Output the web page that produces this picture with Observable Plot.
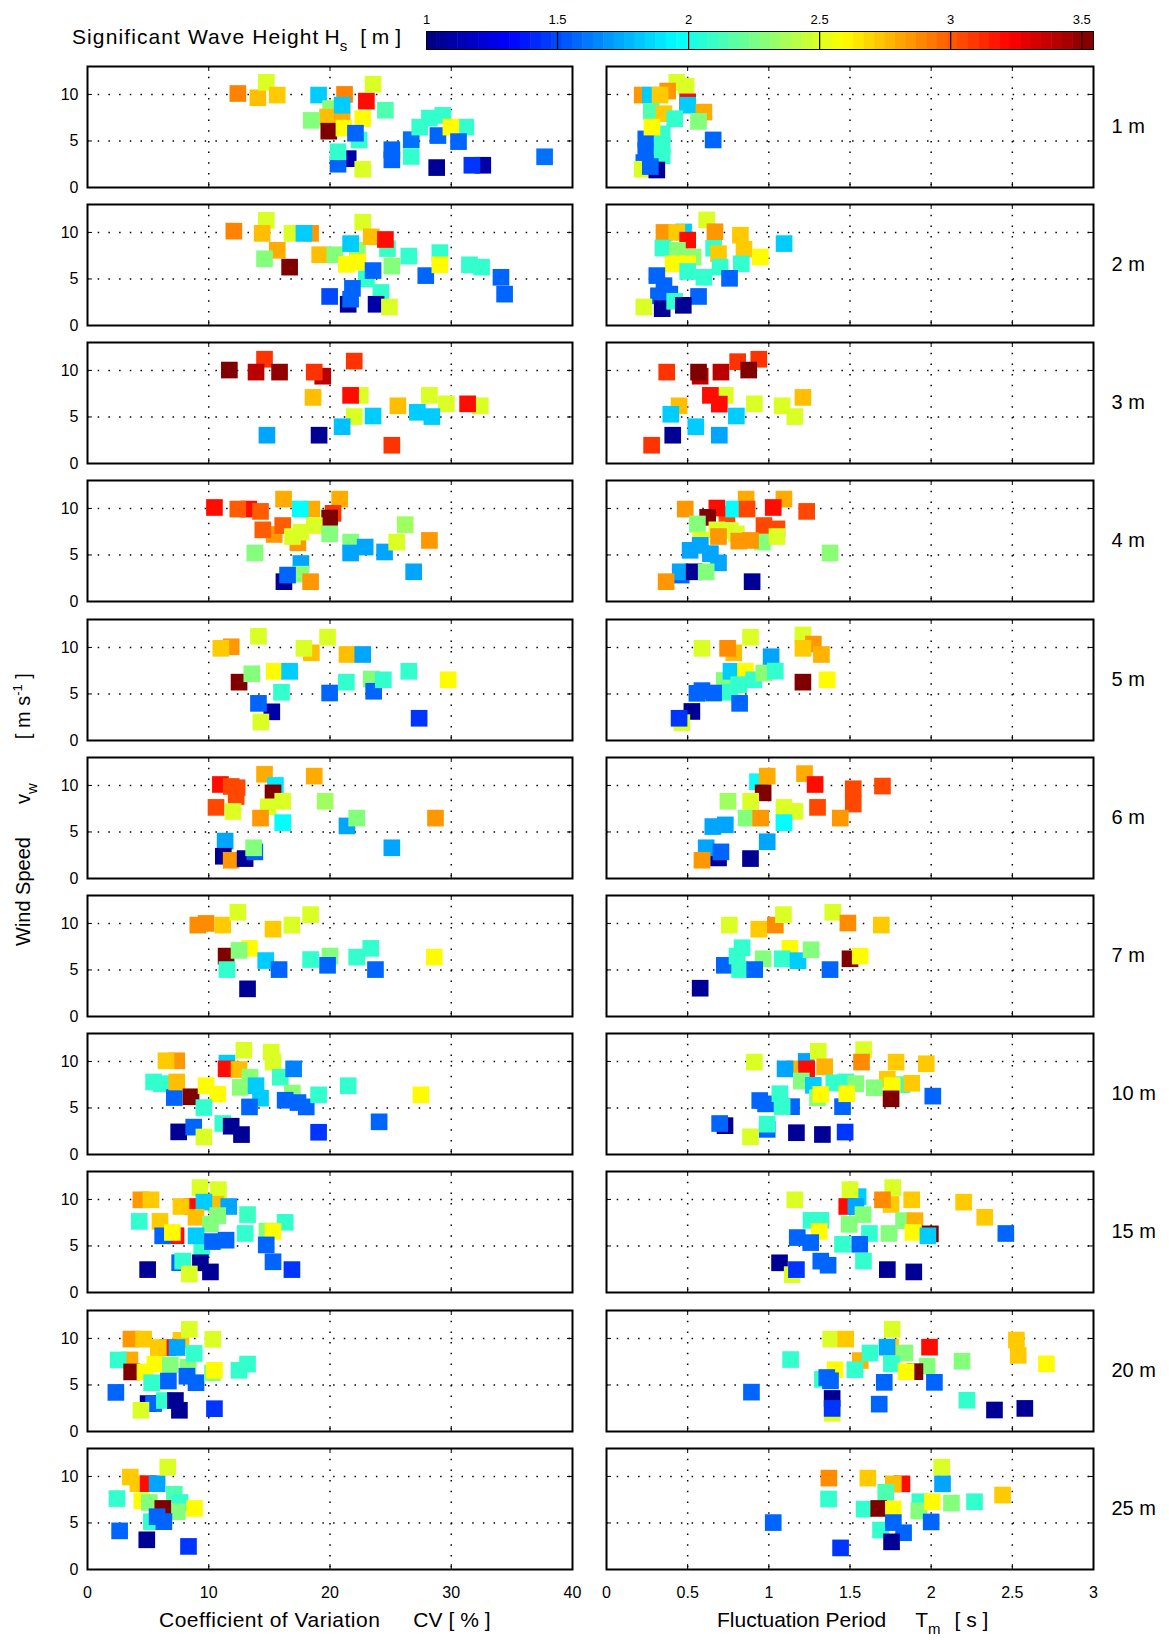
<!DOCTYPE html>
<html><head><meta charset="utf-8">
<script src="https://cdn.jsdelivr.net/npm/d3@7"></script>
<script src="https://cdn.jsdelivr.net/npm/@observablehq/plot@0.6"></script>
<style>
body{margin:0;background:#fff;}
#root{position:relative;width:1169px;height:1640px;overflow:hidden;font-family:"Liberation Sans",Arial,sans-serif;color:#000;background:#fff;}
.abs{position:absolute;}
.lbl{position:absolute;white-space:pre;font-size:21px;line-height:22px;}
.sb{font-size:15px;position:relative;top:7px;letter-spacing:0;}
.sp{font-size:13px;position:relative;top:-8px;letter-spacing:0;}
</style></head><body><div id="root"></div>
<script>
// ---- data: [value on x, wind speed vw (m/s), significant wave height Hs (m)] ----
const heights = ["1 m","2 m","3 m","4 m","5 m","6 m","7 m","10 m","15 m","20 m","25 m"];
const cvTicks = [0,10,20,30,40];
const tmTicks = [0,0.5,1,1.5,2,2.5,3];
const wsTicks = [0,5,10];
const hsTicks = [1,1.5,2,2.5,3,3.5];
const hsMax = 3.545;

// Coefficient of Variation CV [%]
const cv_1m = [[12.4,10.1,2.9],[14.05,9.64,2.75],[14.75,11.3,2.5],[15.65,9.93,2.72],[19.06,9.93,1.83],[21.2,10.0,2.9],[23.55,11.1,2.5],[20.05,8.48,2.3],[19.8,7.57,2.75],[21.0,7.3,2.8],[18.46,7.21,2.28],[21.0,8.84,1.83],[23.0,9.28,3.2],[22.7,7.39,2.6],[24.57,8.3,2.15],[19.9,6.05,3.55],[21.15,6.38,2.6],[22.4,5.1,2.08],[22.1,5.83,1.57],[21.5,3.1,1.1],[20.66,2.5,1.57],[20.66,3.84,2.08],[22.7,1.96,2.5],[25.1,4.06,1.57],[25.1,2.97,1.57],[26.7,3.33,2.08],[26.7,5.14,1.6],[27.4,6.49,2.08],[28.2,7.46,2.08],[29.3,7.75,2.08],[28.9,5.58,1.57],[31.2,6.49,2.08],[29.97,6.49,2.6],[30.6,4.93,1.57],[28.8,2.14,1.05],[32.6,2.39,1.1],[31.7,2.39,1.45],[37.7,3.3,1.6]];
const cv_2m = [[12.07,10.14,2.9],[14.75,11.3,2.5],[14.4,9.9,2.75],[15.65,8.08,2.8],[14.6,7.17,2.28],[16.67,6.27,3.55],[16.86,9.9,2.5],[18.4,9.9,2.85],[17.85,9.9,1.83],[19.15,7.6,2.75],[20.4,7.6,2.28],[22.26,8.08,2.3],[21.7,8.8,1.83],[22.7,11.1,2.5],[23.4,9.53,2.75],[24.74,8.26,2.1],[24.57,9.24,3.2],[21.35,6.56,2.6],[22.3,6.8,2.6],[23.0,5.0,2.08],[23.55,5.9,1.57],[25.1,6.38,2.28],[26.5,7.46,2.08],[27.9,5.36,1.57],[29.06,7.83,2.08],[29.06,6.52,2.6],[31.5,6.52,2.08],[32.5,6.27,2.08],[34.1,5.18,1.57],[34.4,3.37,1.57],[19.97,3.12,1.5],[21.5,2.28,1.05],[21.7,2.83,1.57],[21.85,3.99,1.57],[24.2,3.55,2.08],[23.8,2.28,1.1],[24.9,1.99,2.5]];
const cv_3m = [[11.7,10.04,3.55],[14.6,11.2,3.1],[13.9,9.82,3.4],[15.84,9.82,3.5],[19.4,9.38,3.4],[18.7,9.82,3.1],[22.0,11.0,3.1],[18.6,7.1,2.75],[22.5,7.32,2.5],[21.7,7.32,3.2],[22.0,5.04,2.5],[23.55,5.1,1.83],[25.6,6.2,2.75],[28.2,7.32,2.5],[29.6,6.41,2.5],[27.2,5.5,1.83],[28.4,5.04,1.83],[32.4,6.2,2.5],[31.35,6.41,3.2],[21.0,3.95,1.8],[14.8,3.04,1.73],[19.1,3.04,1.05],[25.1,1.96,3.1]];
const cv_4m = [[10.47,10.1,3.2],[13.3,9.93,3.2],[12.4,9.93,3.0],[14.27,9.68,3.0],[16.17,11.0,2.8],[18.5,9.93,2.8],[17.55,9.93,1.96],[20.8,11.0,2.8],[20.25,9.47,3.1],[19.97,8.97,3.55],[15.4,7.2,2.85],[14.46,7.7,3.0],[16.1,8.16,3.0],[17.35,6.31,2.85],[16.9,6.98,2.5],[17.6,7.45,2.5],[18.7,8.16,2.5],[19.97,7.27,2.28],[13.8,5.21,2.28],[21.7,6.38,2.28],[21.7,5.21,1.73],[22.9,5.85,1.73],[24.5,5.32,1.73],[25.5,6.38,2.5],[26.2,8.26,2.35],[28.2,6.56,2.85],[26.9,3.19,1.73],[17.6,4.08,1.73],[17.6,2.94,2.3],[16.2,2.13,1.05],[16.5,2.84,1.57],[18.4,2.13,2.85]];
const cv_5m = [[11.85,10.07,2.85],[11.0,9.9,2.72],[14.1,11.2,2.5],[18.46,9.42,2.75],[17.85,9.9,2.5],[19.8,11.1,2.5],[21.4,9.24,2.75],[22.7,9.24,1.73],[12.5,6.27,3.55],[13.55,7.17,2.28],[15.4,7.43,2.6],[16.67,7.43,1.83],[16.0,5.18,2.08],[15.2,3.08,1.1],[14.1,3.99,1.57],[14.3,1.99,2.5],[19.97,5.1,1.57],[21.35,6.27,2.08],[23.4,6.6,2.28],[23.6,5.29,1.57],[24.4,6.52,2.08],[26.5,7.43,2.08],[29.75,6.52,2.6],[27.35,2.39,1.45]];
const cv_6m = [[10.96,10.1,3.2],[12.34,9.75,3.05],[11.85,9.89,3.05],[12.26,8.8,3.05],[10.6,7.64,3.05],[12.0,7.2,2.5],[14.6,11.2,2.8],[15.5,10.0,1.9],[15.3,9.2,3.55],[16.1,8.3,2.5],[14.9,7.7,2.5],[14.27,6.49,2.85],[16.1,6.0,1.96],[18.7,11.0,2.8],[19.6,8.3,2.35],[21.4,5.65,1.73],[22.2,6.49,2.28],[28.7,6.49,2.85],[25.1,3.3,1.73],[11.35,4.02,1.73],[11.2,2.39,1.05],[11.85,1.96,2.85],[13.0,2.14,1.05],[13.8,2.86,1.57],[13.7,3.3,2.28]];
const cv_7m = [[9.1,9.82,2.88],[9.78,10.0,2.88],[11.16,9.82,2.72],[12.4,11.2,2.5],[15.3,9.38,2.72],[16.86,9.82,2.5],[18.4,10.94,2.5],[11.43,6.49,3.55],[11.5,5.04,2.08],[13.36,7.32,2.6],[12.5,7.1,2.28],[14.7,6.01,1.83],[15.8,5.04,1.57],[13.2,2.97,1.05],[20.0,6.5,2.28],[18.4,6.12,2.08],[19.8,5.5,1.57],[22.2,6.38,2.08],[23.36,7.32,2.08],[23.75,5.04,1.57],[28.6,6.38,2.6]];
const cv_10m = [[7.36,10.07,2.85],[6.47,10.07,2.72],[5.45,7.79,2.08],[6.06,7.61,2.08],[7.16,6.12,1.57],[7.36,7.79,2.75],[8.54,6.2,3.55],[9.78,7.39,2.6],[10.74,6.49,2.6],[9.6,5.04,2.08],[7.52,2.43,1.05],[8.76,2.94,1.57],[9.6,1.88,2.5],[11.16,3.33,2.08],[11.85,3.04,1.05],[12.7,2.14,1.05],[11.5,9.82,1.83],[11.43,9.2,3.2],[12.5,9.13,2.75],[12.9,11.2,2.5],[13.4,8.3,2.3],[12.6,7.21,2.3],[13.9,7.39,1.83],[14.27,6.05,1.83],[13.36,5.11,1.57],[15.15,11.0,2.5],[15.3,9.93,2.5],[15.9,8.3,2.1],[17.0,9.2,1.64],[16.9,6.6,2.3],[16.3,5.83,1.57],[17.36,5.58,1.57],[18.04,5.11,1.57],[19.06,6.41,2.08],[21.5,7.39,2.08],[19.06,2.39,1.45],[24.05,3.51,1.57],[27.5,6.41,2.6]];
const cv_15m = [[4.4,9.96,2.85],[5.23,9.96,2.72],[9.28,11.27,2.5],[10.8,11.05,2.5],[8.6,9.24,3.2],[7.71,9.24,2.72],[10.6,9.5,2.75],[9.6,9.71,1.83],[11.65,9.24,1.73],[4.27,7.64,2.08],[5.98,7.64,2.72],[8.95,8.08,2.75],[10.74,8.26,2.28],[10.14,7.36,2.28],[13.2,8.37,2.1],[7.3,6.1,3.2],[6.2,6.09,1.57],[7.0,6.45,2.6],[9.42,4.89,2.08],[8.95,6.09,1.83],[10.3,5.47,1.57],[11.43,5.62,1.57],[13.0,6.34,2.08],[14.8,6.6,2.28],[16.3,7.54,2.08],[15.3,6.56,2.6],[14.74,5.11,1.57],[15.3,3.3,1.57],[16.86,2.46,1.45],[4.96,2.46,1.05],[7.6,3.2,1.57],[7.85,3.37,2.08],[9.31,3.19,1.05],[10.14,2.21,1.05],[8.4,1.99,2.5]];
const cv_20m = [[3.58,9.93,2.85],[4.63,9.93,2.72],[3.5,7.69,2.8],[2.53,7.69,2.08],[3.64,6.4,3.55],[4.74,6.4,2.6],[5.56,7.24,2.6],[7.71,9.8,2.72],[6.6,9.02,3.2],[5.84,9.02,2.72],[7.38,9.02,1.73],[8.4,10.97,2.5],[10.33,9.9,2.5],[6.83,7.17,2.28],[8.3,6.9,2.28],[8.8,8.39,2.08],[5.29,5.24,2.08],[6.67,5.42,1.57],[8.2,5.94,1.57],[8.95,5.24,1.57],[10.3,6.3,2.28],[10.47,6.57,2.6],[12.5,6.57,2.08],[13.2,7.24,2.08],[2.34,4.2,1.57],[5.0,3.0,1.05],[5.45,3.0,1.57],[6.34,3.33,2.08],[4.41,2.28,2.5],[7.25,3.33,1.05],[7.58,2.28,1.05],[10.47,2.45,1.45]];
const cv_25m = [[3.53,9.93,2.72],[4.16,9.22,2.72],[5.0,9.22,3.2],[5.74,9.22,1.73],[6.62,10.99,2.5],[2.43,7.62,2.08],[4.48,7.38,2.6],[5.1,7.2,2.28],[7.16,8.09,2.15],[7.63,7.2,2.08],[7.4,6.21,2.28],[6.21,6.56,3.55],[8.83,6.56,2.6],[5.27,5.14,2.08],[5.74,5.67,1.57],[6.3,5.14,1.57],[2.65,4.15,1.57],[4.89,3.19,1.05],[8.33,2.48,1.45]];

// Fluctuation Period Tm [s]
const tm_1m = [[0.22,9.93,2.85],[0.433,11.3,2.5],[0.49,10.9,2.5],[0.377,10.36,2.85],[0.27,9.93,1.83],[0.33,9.93,2.72],[0.5,9.2,3.2],[0.5,8.84,1.83],[0.6,8.1,2.8],[0.567,7.1,2.28],[0.276,8.19,2.15],[0.354,7.93,2.72],[0.242,5.22,1.57],[0.242,3.95,1.57],[0.23,2.68,1.57],[0.343,5.76,2.08],[0.343,4.49,2.08],[0.343,3.4,2.08],[0.42,7.39,2.08],[0.28,6.49,2.6],[0.657,5.11,1.57],[0.22,1.96,2.5],[0.31,1.88,1.05],[0.27,2.25,1.57]];
const tm_2m = [[0.354,10.0,2.85],[0.475,10.05,1.83],[0.433,10.0,2.72],[0.5,9.17,3.2],[0.617,11.34,2.5],[0.668,10.07,2.85],[0.825,9.7,2.72],[0.847,8.19,2.72],[1.094,8.8,1.83],[0.348,8.33,2.08],[0.437,8.08,2.3],[0.533,7.36,2.3],[0.948,7.36,2.6],[0.66,8.3,2.08],[0.69,7.72,2.72],[0.41,6.63,2.6],[0.5,6.63,2.6],[0.5,5.8,2.08],[0.6,5.18,2.08],[0.70,6.27,2.08],[0.83,6.63,2.08],[0.758,5.07,1.57],[0.31,5.36,1.57],[0.354,4.28,1.57],[0.32,3.19,1.57],[0.39,3.37,1.57],[0.567,3.12,1.57],[0.23,1.99,2.5],[0.343,1.81,1.05],[0.42,2.6,2.08],[0.473,2.17,1.05]];
const tm_3m = [[0.371,9.82,3.1],[0.577,9.38,3.4],[0.567,9.82,3.55],[0.705,9.82,3.4],[0.808,10.94,3.1],[0.938,11.2,3.1],[0.876,10.04,3.55],[0.732,7.32,2.5],[0.64,7.32,3.2],[0.695,6.38,3.2],[0.911,6.41,2.5],[1.082,6.2,2.5],[1.16,5.04,2.5],[1.21,7.1,2.75],[0.447,6.2,2.75],[0.396,5.29,1.83],[0.55,3.95,1.83],[0.8,5.1,1.83],[0.695,3.04,1.73],[0.408,3.04,1.05],[0.278,1.96,3.1]];
const tm_4m = [[0.86,11.0,2.8],[0.485,9.93,2.85],[0.742,9.4,3.05],[0.68,10.04,3.2],[0.784,9.93,1.96],[0.866,9.93,3.05],[1.093,11.0,2.8],[1.027,10.1,3.2],[1.233,9.68,3.05],[0.623,9.04,3.55],[0.56,8.33,2.28],[0.68,7.7,2.5],[0.763,7.62,2.5],[0.8,7.27,2.5],[0.97,8.16,3.05],[1.05,7.8,3.05],[0.58,6.6,2.5],[0.69,6.98,2.85],[0.815,6.49,2.85],[0.96,6.38,2.28],[0.887,6.56,2.85],[1.05,6.98,2.5],[1.377,5.21,2.3],[0.515,5.5,1.73],[0.577,6.03,1.73],[0.64,5.14,1.73],[0.69,4.15,1.73],[0.46,2.84,1.57],[0.454,3.19,1.73],[0.54,3.19,1.05],[0.614,3.19,2.28],[0.367,2.13,2.85],[0.897,2.13,1.05]];
const tm_5m = [[0.588,9.9,2.5],[0.784,9.42,2.75],[0.746,9.9,2.88],[0.887,11.1,2.5],[1.014,9.0,1.73],[1.21,11.34,2.5],[1.274,10.36,2.85],[1.21,9.9,2.72],[1.324,9.24,2.78],[1.21,6.27,3.55],[1.36,6.52,2.6],[0.726,6.45,2.28],[0.767,7.43,1.83],[0.856,7.43,2.6],[0.759,5.18,2.08],[0.814,6.0,2.08],[0.907,6.52,2.08],[0.969,7.25,2.3],[1.04,7.46,2.08],[0.588,5.36,1.57],[0.557,5.07,1.57],[0.66,5.1,1.57],[0.82,3.99,1.57],[0.526,3.12,1.05],[0.464,1.92,2.5],[0.447,2.39,1.45]];
const tm_6m = [[0.93,10.4,1.96],[0.99,11.0,2.8],[0.965,9.2,3.55],[1.22,11.27,2.8],[1.285,10.1,3.2],[1.52,9.64,3.05],[1.52,8.0,3.05],[1.7,9.93,3.05],[1.3,7.64,3.05],[1.44,6.49,2.85],[0.748,8.3,2.35],[0.888,8.3,2.5],[1.093,7.64,2.5],[1.16,7.21,2.5],[0.86,6.49,2.28],[0.95,6.49,2.85],[1.093,6.0,1.96],[0.655,5.58,1.73],[0.732,5.76,1.73],[0.99,3.95,1.73],[0.69,2.21,1.05],[0.614,3.3,1.73],[0.705,2.86,1.57],[0.588,1.96,2.85],[0.887,2.14,1.05]];
const tm_7m = [[0.757,9.82,2.5],[0.938,9.38,2.72],[1.04,9.82,2.88],[1.09,10.94,2.5],[1.394,11.2,2.5],[1.487,10.04,2.88],[1.693,9.82,2.72],[0.835,7.39,2.08],[0.726,5.5,1.57],[0.804,6.49,2.08],[0.82,5.04,2.08],[0.965,6.2,2.28],[0.913,5.04,1.57],[1.13,7.32,2.6],[1.082,6.2,2.08],[1.18,6.0,1.83],[1.26,7.17,2.28],[1.377,5.04,1.57],[1.5,6.2,3.55],[1.563,6.49,2.6],[0.577,3.04,1.05]];
const tm_10m = [[0.911,9.93,2.5],[1.16,9.2,2.78],[1.23,10.0,1.73],[1.1,9.2,1.73],[1.233,9.2,3.2],[1.305,11.1,2.5],[1.344,9.42,2.78],[1.584,11.27,2.5],[1.571,9.93,2.88],[1.784,9.93,2.72],[1.97,9.75,2.72],[1.82,7.5,2.08],[1.73,8.08,2.72],[1.88,7.65,2.72],[1.2,7.9,2.28],[1.274,7.43,1.83],[1.4,7.7,2.08],[1.474,7.8,2.08],[1.536,7.61,2.28],[1.65,7.17,2.28],[1.76,7.4,2.6],[1.753,5.98,3.55],[2.01,6.27,1.57],[1.3,6.1,2.28],[1.32,6.45,2.6],[1.454,5.14,1.57],[1.48,6.53,2.6],[0.944,5.8,1.57],[0.98,5.44,1.57],[1.14,5.14,1.57],[1.068,6.53,2.08],[1.082,5.14,2.08],[0.73,3.1,1.05],[0.697,3.33,1.57],[0.99,2.7,1.57],[0.99,3.26,2.08],[0.887,1.9,2.5],[1.17,2.34,1.05],[1.33,2.15,1.05],[1.47,2.41,1.45]];
const tm_15m = [[1.16,9.96,2.5],[1.55,10.3,1.83],[1.5,11.05,2.5],[1.48,9.24,3.2],[1.536,9.24,1.73],[1.58,8.37,2.28],[1.495,7.32,2.28],[1.763,11.27,2.5],[1.753,9.46,2.72],[1.7,9.96,2.88],[1.88,9.96,2.72],[1.83,7.72,2.28],[1.9,7.72,2.78],[1.887,6.45,2.6],[1.995,6.3,3.55],[1.98,6.09,1.83],[2.2,9.71,2.72],[2.33,8.08,2.72],[2.46,6.34,1.57],[1.26,7.75,2.08],[1.32,7.75,2.08],[1.31,6.56,2.6],[1.175,5.9,1.57],[1.258,5.36,1.57],[1.62,6.34,2.08],[1.74,6.34,2.28],[1.454,5.18,2.08],[1.56,5.18,1.57],[1.583,3.37,2.08],[1.32,3.37,1.57],[1.365,2.93,1.57],[1.066,3.19,1.05],[1.144,1.92,2.5],[1.17,2.46,1.45],[1.73,2.46,1.05],[1.893,2.21,1.05]];
const tm_20m = [[1.381,9.93,2.5],[1.474,9.93,2.72],[1.76,10.98,2.5],[1.75,9.06,2.72],[1.728,9.06,1.73],[1.99,9.06,3.2],[2.525,9.83,2.72],[2.536,8.18,2.72],[2.71,7.27,2.6],[1.134,7.73,2.08],[1.563,7.62,2.78],[1.623,8.43,2.08],[1.837,8.43,2.28],[1.755,7.27,2.08],[1.975,7.03,2.28],[2.19,7.55,2.28],[1.53,6.64,2.08],[1.408,6.64,2.6],[1.9,6.43,3.55],[1.845,6.43,2.6],[1.33,5.6,2.08],[1.357,5.8,1.57],[1.38,5.45,1.57],[1.711,5.28,1.57],[2.02,5.28,1.57],[0.893,4.23,1.57],[1.39,1.95,2.5],[1.39,3.55,1.05],[1.39,2.48,1.45],[1.68,2.94,1.57],[2.22,3.36,2.08],[2.39,2.31,1.05],[2.577,2.48,1.05]];
const tm_25m = [[1.37,9.82,2.88],[1.61,9.82,2.72],[1.82,9.2,3.2],[1.767,9.2,2.75],[2.065,11.0,2.5],[2.07,9.2,1.73],[1.368,7.57,2.08],[1.72,8.3,2.15],[1.587,6.49,2.08],[1.677,6.56,3.55],[1.767,6.49,2.6],[1.93,7.28,2.08],[1.924,6.3,2.28],[2.007,7.28,2.6],[2.125,7.14,2.28],[2.267,7.28,2.08],[2.44,8.0,2.72],[1.688,4.24,2.08],[1.767,5.04,1.57],[1.83,3.95,1.57],[2.0,5.11,1.57],[1.027,5.04,1.57],[1.442,2.32,1.45],[1.756,2.97,1.05]];

const cvSets = [cv_1m,cv_2m,cv_3m,cv_4m,cv_5m,cv_6m,cv_7m,cv_10m,cv_15m,cv_20m,cv_25m];
const tmSets = [tm_1m,tm_2m,tm_3m,tm_4m,tm_5m,tm_6m,tm_7m,tm_10m,tm_15m,tm_20m,tm_25m];

// ---- MATLAB jet colormap ----
function jet(t) {
  const c = v => Math.max(0, Math.min(1, v));
  const r = c(1.5 - Math.abs(4*t - 3)), g = c(1.5 - Math.abs(4*t - 2)), b = c(1.5 - Math.abs(4*t - 1));
  return `rgb(${Math.round(r*255)},${Math.round(g*255)},${Math.round(b*255)})`;
}
const colorOpts = {type: "linear", domain: [1, hsMax], interpolate: jet, clamp: true};

const root = document.getElementById("root");
function place(node, left, top) {
  const d = document.createElement("div");
  d.className = "abs"; d.style.left = left + "px"; d.style.top = top + "px";
  d.appendChild(node); root.appendChild(d);
}
const styleBase = {fontFamily: '"Liberation Sans", Arial, sans-serif', fontSize: "16px", color: "black", background: "transparent", overflow: "visible"};
const dotted = {stroke: "black", strokeOpacity: 1, strokeWidth: 1.5, strokeDasharray: "1.5,9.2"};

function makePanel(data, i, isL) {
  const bottom = i === heights.length - 1;
  const FW = isL ? 485 : 487, FH = 121;
  const ml = isL ? 87 : 16, mr = isL ? 10 : 76, mt = 4, mb = bottom ? 44 : 4;
  const xT = isL ? cvTicks : tmTicks;
  const inner = xT.slice(1, -1);
  const yInner = wsTicks.slice(1);
  const marks = [
    Plot.gridX(inner, dotted),
    Plot.gridY(yInner, dotted),
    Plot.tickX(inner, {x: d => d, stroke: "black", insetTop: FH - 5}),
    Plot.tickX(inner, {x: d => d, stroke: "black", insetBottom: FH - 5}),
    Plot.tickY(yInner, {y: d => d, stroke: "black", insetRight: FW - 5}),
    Plot.tickY(yInner, {y: d => d, stroke: "black", insetLeft: FW - 5}),
    Plot.dot(data, {x: d => d[0], y: d => d[1], fill: d => d[2], symbol: "square", r: 9.4}),
    Plot.frame({stroke: "black", strokeWidth: 2})
  ];
  if (isL) marks.push(Plot.axisY(wsTicks, {tickSize: 0, tickPadding: 9, fontSize: 16, label: null, tickFormat: d => String(d)}));
  if (bottom) marks.push(Plot.axisX(xT, {tickSize: 0, tickPadding: 17, fontSize: 16, label: null, tickFormat: d => String(d)}));
  if (!isL) marks.push(Plot.text([heights[i]], {text: d => d, frameAnchor: "right", dx: 18, textAnchor: "start", fontSize: 20}));
  const p = Plot.plot({
    width: ml + FW + mr, height: mt + FH + mb,
    marginLeft: ml, marginRight: mr, marginTop: mt, marginBottom: mb,
    x: {domain: isL ? [0, 40] : [0, 3], axis: bottom ? undefined : null},
    y: {domain: [0, 13], axis: isL ? undefined : null},
    color: colorOpts, style: styleBase, marks
  });
  place(p, isL ? 0 : 590, Math.round(65.7 + 138.2 * i) - mt);
}
heights.forEach((h, i) => { makePanel(cvSets[i], i, true); makePanel(tmSets[i], i, false); });

// ---- colorbar ----
const nCol = 64, step = (hsMax - 1) / nCol;
const ramp = d3.range(nCol).map(k => 1 + (k + 0.5) * step);
const cb = Plot.plot({
  width: 1169, height: 62, marginLeft: 426, marginRight: 76, marginTop: 31, marginBottom: 13,
  x: {domain: [1, hsMax]}, color: colorOpts, style: styleBase,
  marks: [
    Plot.rect(ramp, {x1: d => d - step / 2, x2: d => d + step / 2 + 0.002, fill: d => d}),
    Plot.ruleX(hsTicks.slice(1), {stroke: "black", strokeWidth: 1.2}),
    Plot.frame({stroke: "black", strokeWidth: 1}),
    Plot.axisX(hsTicks, {anchor: "top", tickSize: 0, tickPadding: 8, fontSize: 13, label: null, tickFormat: d => String(d)})
  ]
});
place(cb, 0, 0);

// ---- titles ----
function label(html, left, top, extra) {
  const d = document.createElement("div");
  d.className = "lbl"; d.innerHTML = html;
  d.style.left = left + "px"; d.style.top = top + "px";
  if (extra) Object.assign(d.style, extra);
  root.appendChild(d);
}
label('<span style="letter-spacing:1.1px">Significant Wave Height</span><span style="margin-left:5px">H</span><span class="sb">s</span><span style="margin-left:13px">[ m ]</span>', 72, 26);
label('<span style="letter-spacing:0.5px">Coefficient of Variation</span><span style="margin-left:33px">CV</span><span style="margin-left:6px">[ % ]</span>', 159, 1609);
label('Fluctuation Period<span style="margin-left:29px">T</span><span class="sb">m</span><span style="margin-left:14px">[ s ]</span>', 717, 1609);
label('Wind Speed<span style="margin-left:33px">v</span><span class="sb">w</span><span style="margin-left:44px">[ m s</span><span class="sp">-1</span> ]', 12, 946, {transform: "rotate(-90deg)", transformOrigin: "0 0", fontSize: "20px"});
</script>
</body></html>
